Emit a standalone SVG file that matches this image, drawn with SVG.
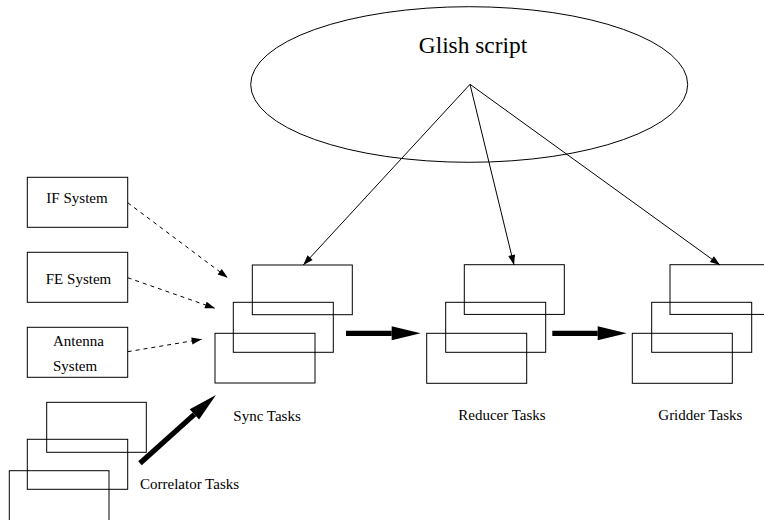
<svg xmlns="http://www.w3.org/2000/svg" width="764" height="520" viewBox="0 0 764 520">
  <style>
    .box { fill: none; stroke: #000; stroke-width: 1; }
    .lbl { font-family: "Liberation Serif", "Times New Roman", serif; font-size: 15px; fill: #000; }
    .title { font-family: "Liberation Serif", "Times New Roman", serif; font-size: 23.4px; fill: #000; }
    .thin { fill: none; stroke: #000; stroke-width: 1; marker-end: url(#head); }
    .dash { fill: none; stroke: #000; stroke-width: 1; stroke-dasharray: 4 4; marker-end: url(#dhead); }
    .thick { fill: none; stroke: #000; stroke-width: 5.3; marker-end: url(#bighead); }
  </style>
  <defs>
    <marker id="head" markerUnits="userSpaceOnUse" markerWidth="12" markerHeight="8" refX="10" refY="3.5" orient="auto" overflow="visible">
      <path d="M0,0 L10,3.5 L0,7 Z" fill="#000"/>
    </marker>
    <marker id="dhead" markerUnits="userSpaceOnUse" markerWidth="12" markerHeight="8" refX="10" refY="3.5" orient="auto" overflow="visible">
      <path d="M0,0 L10,3.5 L0,7 Z" fill="#000"/>
    </marker>
    <marker id="bighead" markerUnits="userSpaceOnUse" markerWidth="30" markerHeight="16" refX="0" refY="7" orient="auto" overflow="visible">
      <path d="M0,0 L29,7 L0,14 Z" fill="#000"/>
    </marker>
  </defs>

  <!-- controlling script -->
  <g id="glish">
    <ellipse cx="469.2" cy="84.5" rx="218.5" ry="77.8" class="box"/>
    <text x="473" y="53" class="title" text-anchor="middle">Glish script</text>
  </g>

  <!-- monitor/control systems -->
  <g id="if-system">
    <rect x="27.3" y="177.3" width="100.4" height="50" class="box"/>
    <text x="77" y="202.5" class="lbl" text-anchor="middle">IF System</text>
  </g>
  <g id="fe-system">
    <rect x="27.3" y="252.3" width="100.4" height="50" class="box"/>
    <text x="78.5" y="284" class="lbl" text-anchor="middle">FE System</text>
  </g>
  <g id="antenna-system">
    <rect x="27.3" y="327.3" width="100.4" height="50" class="box"/>
    <text x="53" y="346" class="lbl">Antenna</text>
    <text x="53" y="370.7" class="lbl">System</text>
  </g>

  <!-- task stacks -->
  <g id="sync-tasks">
    <rect x="252.3" y="265" width="100" height="49.7" class="box"/>
    <rect x="233.3" y="302.3" width="100" height="50" class="box"/>
    <rect x="215" y="333.3" width="100" height="49.7" class="box"/>
    <text x="233.3" y="420.7" class="lbl">Sync Tasks</text>
  </g>
  <g id="reducer-tasks">
    <rect x="464.3" y="264.7" width="100" height="49.7" class="box"/>
    <rect x="445.7" y="302.3" width="100" height="50" class="box"/>
    <rect x="426.7" y="333.3" width="100" height="50" class="box"/>
    <text x="458.3" y="420" class="lbl">Reducer Tasks</text>
  </g>
  <g id="gridder-tasks">
    <rect x="670" y="264.7" width="100" height="49.7" class="box"/>
    <rect x="651.7" y="302.3" width="100" height="50" class="box"/>
    <rect x="632.3" y="333.3" width="100" height="50" class="box"/>
    <text x="658.3" y="420" class="lbl">Gridder Tasks</text>
  </g>
  <g id="correlator-tasks">
    <rect x="46.7" y="402.3" width="99.6" height="50" class="box"/>
    <rect x="27.3" y="439.3" width="100.4" height="50" class="box"/>
    <rect x="9.3" y="470.7" width="99.7" height="50" class="box"/>
    <text x="140" y="489.3" class="lbl">Correlator Tasks</text>
  </g>

  <!-- connectors -->
  <g id="connectors">
    <path d="M470,84.3 L303.3,265" class="thin"/>
    <path d="M470,84.3 L514,265" class="thin"/>
    <path d="M470,84.3 L720,265" class="thin"/>

    <path d="M127.7,202.7 L227.7,277.7" class="dash"/>
    <path d="M127.7,277.7 L215,308.3" class="dash"/>
    <path d="M127.7,351.7 L201.7,339.3" class="dash"/>

    <path d="M346,333.3 L391.7,333.3" class="thick"/>
    <path d="M552.3,333.3 L597.7,333.3" class="thick"/>
    <path d="M140,463.3 L194.4,414.4" class="thick"/>
  </g>
</svg>
